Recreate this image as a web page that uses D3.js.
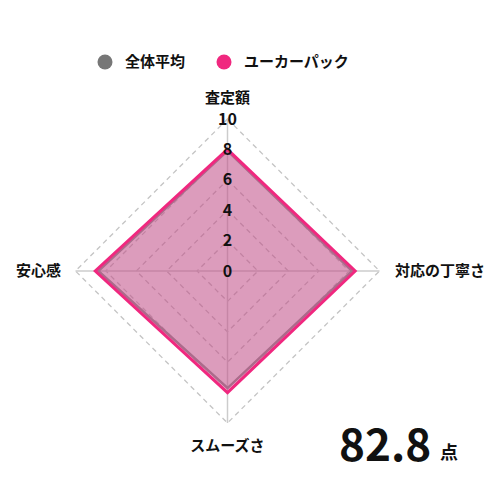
<!DOCTYPE html>
<html>
<head>
<meta charset="utf-8">
<script src="https://cdnjs.cloudflare.com/ajax/libs/d3/7.8.5/d3.min.js"></script>
<style>
  body { margin: 0; background: #fff; }
  text { font-family: "Noto Sans CJK JP", "Noto Sans", sans-serif; }
</style>
</head>
<body>
<div id="chart"></div>
<script>
const axes = ["査定額", "対応の丁寧さ", "スムーズさ", "安心感"];
const averageValues = [7.9, 8.2, 7.7, 8.5];
const packValues = [8.0, 8.4, 8.0, 8.7];
const ticks = [0, 2, 4, 6, 8, 10];
const seriesNames = ["全体平均", "ユーカーパック"];
const totalScore = "82.8";

const width = 500, height = 500;
const cx = 227.5, cy = 271;
const radius = 152;

const svg = d3.select("#chart").append("svg")
    .attr("width", width)
    .attr("height", height);

const r = d3.scaleLinear().domain([0, 10]).range([0, radius]);
const angle = d3.scalePoint().domain(axes).range([0, 2 * Math.PI * 3 / 4]);

function pt(name, v) {
    const a = angle(name) - Math.PI / 2;
    return [cx + r(v) * Math.cos(a), cy + r(v) * Math.sin(a)];
}

// grid
const grid = svg.append("g");
ticks.filter(t => t > 0).forEach(t => {
    grid.append("polygon")
        .attr("points", axes.map(a => pt(a, t).join(",")).join(" "))
        .attr("fill", "none")
        .attr("stroke", "#c4c4c4")
        .attr("stroke-width", 1.3)
        .attr("stroke-dasharray", "5,4");
});
axes.forEach(a => {
    const p = pt(a, 10);
    grid.append("line")
        .attr("x1", cx).attr("y1", cy)
        .attr("x2", p[0]).attr("y2", p[1])
        .attr("stroke", "#cccccc")
        .attr("stroke-width", 1.5);
});

// series
const line = d3.line().curve(d3.curveLinearClosed);
svg.append("path")
    .attr("d", line(axes.map((a, i) => pt(a, averageValues[i]))))
    .attr("fill", "rgba(120,120,120,0.25)")
    .attr("stroke", "#8a8a8a")
    .attr("stroke-width", 2.5)
    .attr("stroke-linejoin", "miter");
svg.append("path")
    .attr("d", line(axes.map((a, i) => pt(a, packValues[i]))))
    .attr("fill", "rgba(220,60,140,0.4)")
    .attr("stroke", "#f0287f")
    .attr("stroke-width", 3)
    .attr("stroke-linejoin", "miter");

// tick labels
svg.append("g").selectAll("text")
    .data(ticks)
    .enter().append("text")
    .attr("x", cx)
    .attr("y", d => cy - r(d))
    .attr("dy", "0.35em")
    .attr("text-anchor", "middle")
    .attr("font-size", 16)
    .attr("font-weight", "bold")
    .attr("fill", "#111")
    .text(d => d);

// axis labels
const labelPos = [
    { x: cx, y: 98, anchor: "middle" },
    { x: 395, y: cy, anchor: "start" },
    { x: cx, y: 446, anchor: "middle" },
    { x: 61, y: cy, anchor: "end" }
];
svg.append("g").selectAll("text")
    .data(axes)
    .enter().append("text")
    .attr("x", (d, i) => labelPos[i].x)
    .attr("y", (d, i) => labelPos[i].y)
    .attr("dy", "0.35em")
    .attr("text-anchor", (d, i) => labelPos[i].anchor)
    .attr("font-size", 15)
    .attr("font-weight", "bold")
    .attr("fill", "#111")
    .text(d => d);

// legend
const legendColors = ["#777777", "#f0287f"];
const legendX = [105, 224];
seriesNames.forEach((s, i) => {
    svg.append("circle")
        .attr("cx", legendX[i]).attr("cy", 62).attr("r", 7.5)
        .attr("fill", legendColors[i]);
    svg.append("text")
        .attr("x", legendX[i] + 20).attr("y", 62)
        .attr("dy", "0.35em")
        .attr("font-size", 15)
        .attr("font-weight", "bold")
        .attr("fill", "#111")
        .text(s);
});

// score
svg.append("text")
    .attr("x", 339).attr("y", 461)
    .attr("font-size", 44)
    .attr("font-weight", "bold")
    .attr("fill", "#111")
    .text(totalScore);
svg.append("text")
    .attr("x", 440).attr("y", 459)
    .attr("font-size", 18)
    .attr("font-weight", "bold")
    .attr("fill", "#111")
    .text("点");
</script>
</body>
</html>
